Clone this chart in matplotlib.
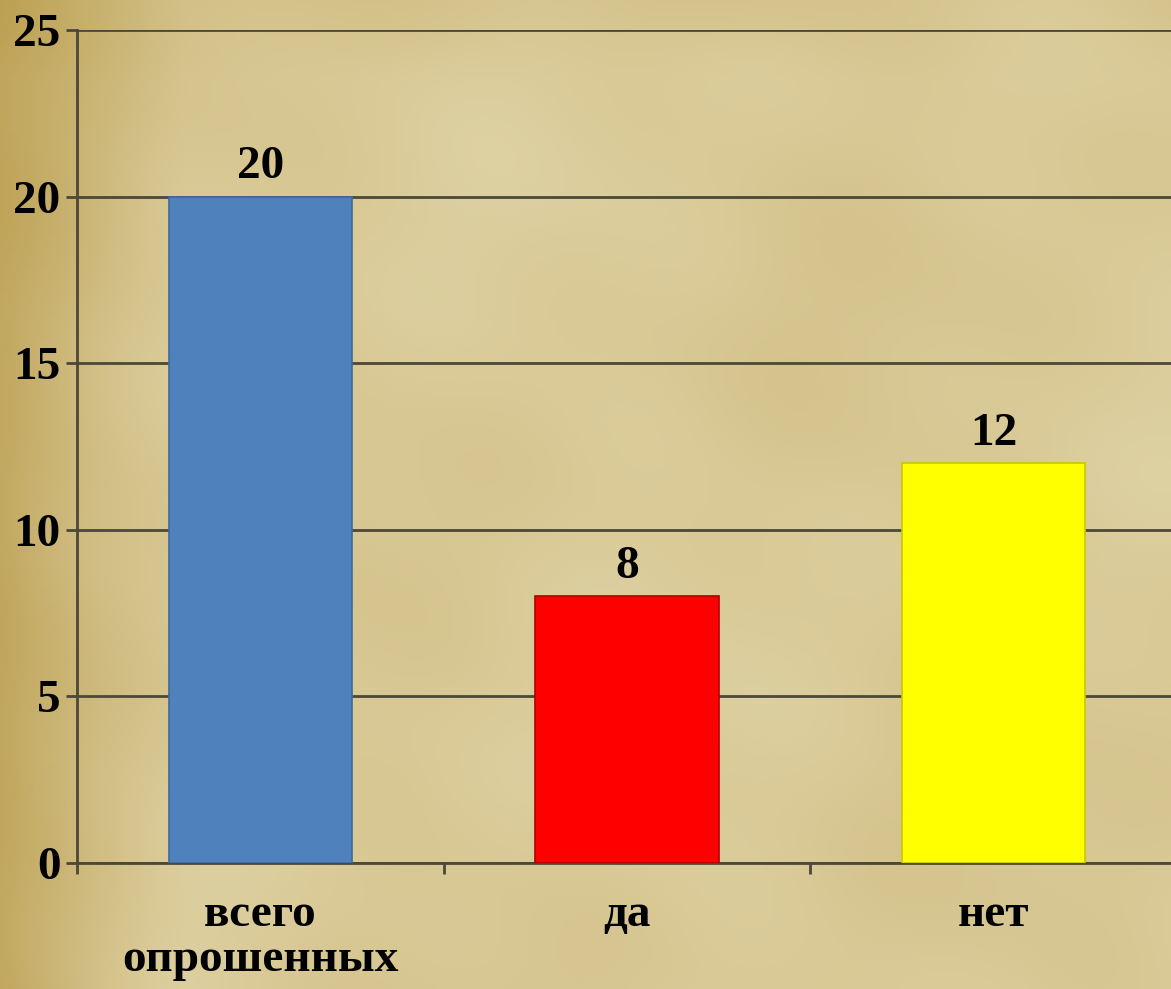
import numpy as np
import matplotlib
matplotlib.use("Agg")
import matplotlib.pyplot as plt
from matplotlib.ticker import FixedLocator, NullFormatter

categories = ["всего\nопрошенных", "да", "нет"]
values = [20, 8, 12]
colors = ["#4f81bd", "#ff0000", "#ffff00"]
edges = ["#3f6a9e", "#b00000", "#c8c800"]
yticks = [0, 5, 10, 15, 20, 25]

W, H = 1171, 989
fig = plt.figure(figsize=(W / 100, H / 100), dpi=100)

# parchment-like background (smooth gradient, decorative)
bg = fig.add_axes([0, 0, 1, 1], zorder=-10)
xs = np.linspace(0, 1, 300)
ys = np.linspace(0, 1, 250)
X, Y = np.meshgrid(xs, ys)
base = np.array([0.85, 0.79, 0.59])
dark = np.array([0.72, 0.60, 0.28])
t = np.clip(1 - X / 0.16, 0, 1) ** 1.3 * 0.75
t += 0.10 * (np.sin(X * 9 + Y * 4) * np.cos(Y * 7 - X * 3))
t += 0.05 * (np.sin(X * 23 - Y * 11) * np.sin(Y * 19 + X * 5))
t += 0.12 * np.clip(1 - Y / 0.08, 0, 1)
t = np.clip(t, -0.15, 1)
img = base[None, None, :] * (1 - t[..., None]) + dark[None, None, :] * t[..., None]
img = np.clip(img, 0, 1)
bg.imshow(img, aspect="auto", extent=[0, 1, 0, 1], origin="upper")
bg.axis("off")

left = 77 / W
right = 1177 / W
bottom = 1 - 863 / H
top = 1 - 30 / H
ax = fig.add_axes([left, bottom, right - left, top - bottom])
ax.set_facecolor("none")

x = np.arange(len(categories))
bars = ax.bar(x, values, width=0.5, color=colors, edgecolor=edges, linewidth=1.2, zorder=3)

font = dict(family="Liberation Serif", weight="bold", size=34)
for xi, v in zip(x, values):
    ax.annotate(str(v), (xi, v), xytext=(0, 6), textcoords="offset points",
                ha="center", va="bottom", color="black", **font)

ax.set_xlim(-0.5, 2.5)
ax.set_ylim(0, 25)
ax.set_yticks(yticks)
ax.set_yticklabels([str(t) for t in yticks], **font)
ax.set_xticks(x)
ax.set_xticklabels(categories, linespacing=1.1, **font)
ax.xaxis.set_minor_locator(FixedLocator([-0.5, 0.5, 1.5, 2.5]))
ax.xaxis.set_minor_formatter(NullFormatter())
ax.tick_params(axis="x", which="major", length=0, pad=22)
ax.tick_params(axis="x", which="minor", length=8, width=2, color="#4a4838")
ax.tick_params(axis="y", length=8, width=2, color="#4a4838", pad=4)

ax.grid(axis="y", color="#4a4838", linewidth=2, zorder=1)
ax.set_axisbelow(True)
for s in ["top", "right"]:
    ax.spines[s].set_visible(False)
ax.spines["left"].set_color("#4a4838")
ax.spines["left"].set_linewidth(2)
ax.spines["bottom"].set_color("#4a4838")
ax.spines["bottom"].set_linewidth(2)

fig.savefig("out.png", dpi=100)
